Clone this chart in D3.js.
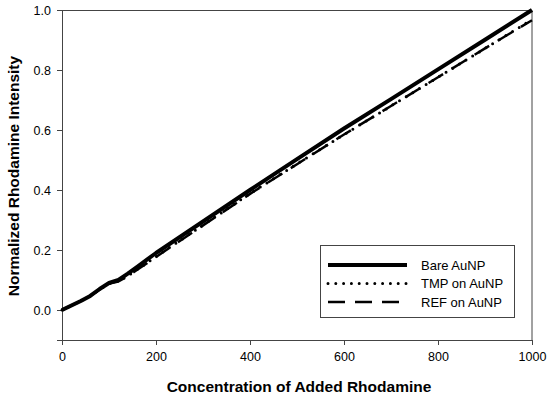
<!DOCTYPE html>
<html>
<head>
<meta charset="utf-8">
<script src="https://cdn.jsdelivr.net/npm/d3@7"></script>
<style>
  html, body { margin: 0; padding: 0; background: #fff; overflow: hidden; }
  svg { display: block; }
  .axis text { font-family: "Liberation Sans", Arial, sans-serif; font-size: 12.5px; fill: #000; }
  .axis-title { font-family: "Liberation Sans", Arial, sans-serif; font-size: 15.5px; font-weight: bold; fill: #000; }
  .legend text { font-family: "Liberation Sans", Arial, sans-serif; font-size: 13px; fill: #000; }
</style>
</head>
<body>
<div id="chart"></div>
<script>
// Data
const concentration = [0, 20, 40, 60, 80, 100, 120, 140, 160, 180, 200, 300, 400, 500, 600, 700, 800, 900, 1000]
const bareAuNP = [0, 0.015, 0.03, 0.047, 0.07, 0.09, 0.1, 0.121, 0.144, 0.167, 0.19, 0.295, 0.4, 0.503, 0.605, 0.703, 0.802, 0.901, 1.0]
const tmpAuNP = [0, 0.015, 0.03, 0.047, 0.068, 0.088, 0.096, 0.114, 0.135, 0.156, 0.178, 0.283, 0.388, 0.487, 0.585, 0.68, 0.776, 0.872, 0.968]
const refAuNP = [0, 0.015, 0.03, 0.047, 0.068, 0.088, 0.095, 0.113, 0.134, 0.155, 0.177, 0.282, 0.387, 0.486, 0.585, 0.68, 0.776, 0.872, 0.966]
const xTicks = [0, 200, 400, 600, 800, 1000]
const yTicks = [0, 0.2, 0.4, 0.6, 0.8, 1.0]

const series = [
  { label: "Bare AuNP", values: bareAuNP, width: 4, dash: null, cap: "butt" },
  { label: "TMP on AuNP", values: tmpAuNP, width: 3, dash: "0,7.8", cap: "round" },
  { label: "REF on AuNP", values: refAuNP, width: 2.5, dash: "17,10", cap: "butt" },
]

const width = 550
const height = 399
const margin = { top: 10, right: 18, bottom: 59, left: 62 }
const innerWidth = width - margin.left - margin.right
const innerHeight = height - margin.top - margin.bottom

const svg = d3.select("#chart")
  .append("svg")
  .attr("width", width)
  .attr("height", height)

const group = svg.append("g")
  .attr("transform", `translate(${margin.left},${margin.top})`)

// Scales
let x = d3.scaleLinear().domain([0, 1000]).range([0, innerWidth])
let y = d3.scaleLinear().domain([-0.1, 1.0]).range([innerHeight, 0])

// Frame: top and right edges
group.append("path")
  .attr("d", `M0,0.5H${innerWidth}V${innerHeight}`)
  .attr("fill", "none")
  .attr("stroke", "#444")
  .attr("stroke-width", 1)

// Axes
group.append("g")
  .attr("class", "x axis")
  .attr("transform", `translate(0,${innerHeight})`)
  .call(d3.axisBottom(x).tickValues(xTicks).tickFormat(d3.format("d")).tickSizeOuter(0).tickSize(5).tickPadding(7))
  .call(g => g.selectAll(".domain, line").attr("stroke", "#444"))

group.append("g")
  .attr("class", "y axis")
  .call(d3.axisLeft(y).tickValues(yTicks).tickFormat(d3.format(".1f")).tickSizeOuter(0).tickSize(5).tickPadding(6))
  .call(g => g.selectAll(".domain, line").attr("stroke", "#444"))

// Axis titles
group.append("text")
  .attr("class", "axis-title")
  .attr("text-anchor", "middle")
  .attr("x", innerWidth / 2 + 2)
  .attr("y", innerHeight + 52)
  .text("Concentration of Added Rhodamine")

group.append("text")
  .attr("class", "axis-title")
  .attr("text-anchor", "middle")
  .attr("transform", `translate(${-43},${innerHeight / 2 + 1}) rotate(-90)`)
  .text("Normalized Rhodamine Intensity")

// Lines
let line = d3.line()
  .x((d, i) => x(concentration[i]))
  .y(d => y(d))

// draw back to front so the solid line sits on top
series.slice().reverse().forEach(s => {
  group.append("path")
    .datum(s.values)
    .attr("d", line)
    .attr("fill", "none")
    .attr("stroke", "#000")
    .attr("stroke-width", s.width)
    .attr("stroke-linecap", s.cap)
    .attr("stroke-linejoin", "round")
    .attr("stroke-dasharray", s.dash)
})

// Legend
let legend = svg.append("g")
  .attr("class", "legend")
  .attr("transform", "translate(320,245)")

legend.append("rect")
  .attr("x", 0.5)
  .attr("y", 0.5)
  .attr("width", 194)
  .attr("height", 72)
  .attr("fill", "#fff")
  .attr("stroke", "#444")

let rows = legend.selectAll("g.row")
  .data(series)
  .join("g")
  .attr("class", "row")
  .attr("transform", (d, i) => `translate(0,${20 + i * 18.5})`)

rows.append("line")
  .attr("x1", 8)
  .attr("x2", 87)
  .attr("stroke", "#000")
  .attr("stroke-width", d => d.width)
  .attr("stroke-linecap", d => d.cap)
  .attr("stroke-dasharray", d => d.dash)

rows.append("text")
  .attr("x", 101)
  .attr("dy", "0.35em")
  .text(d => d.label)
</script>
</body>
</html>
